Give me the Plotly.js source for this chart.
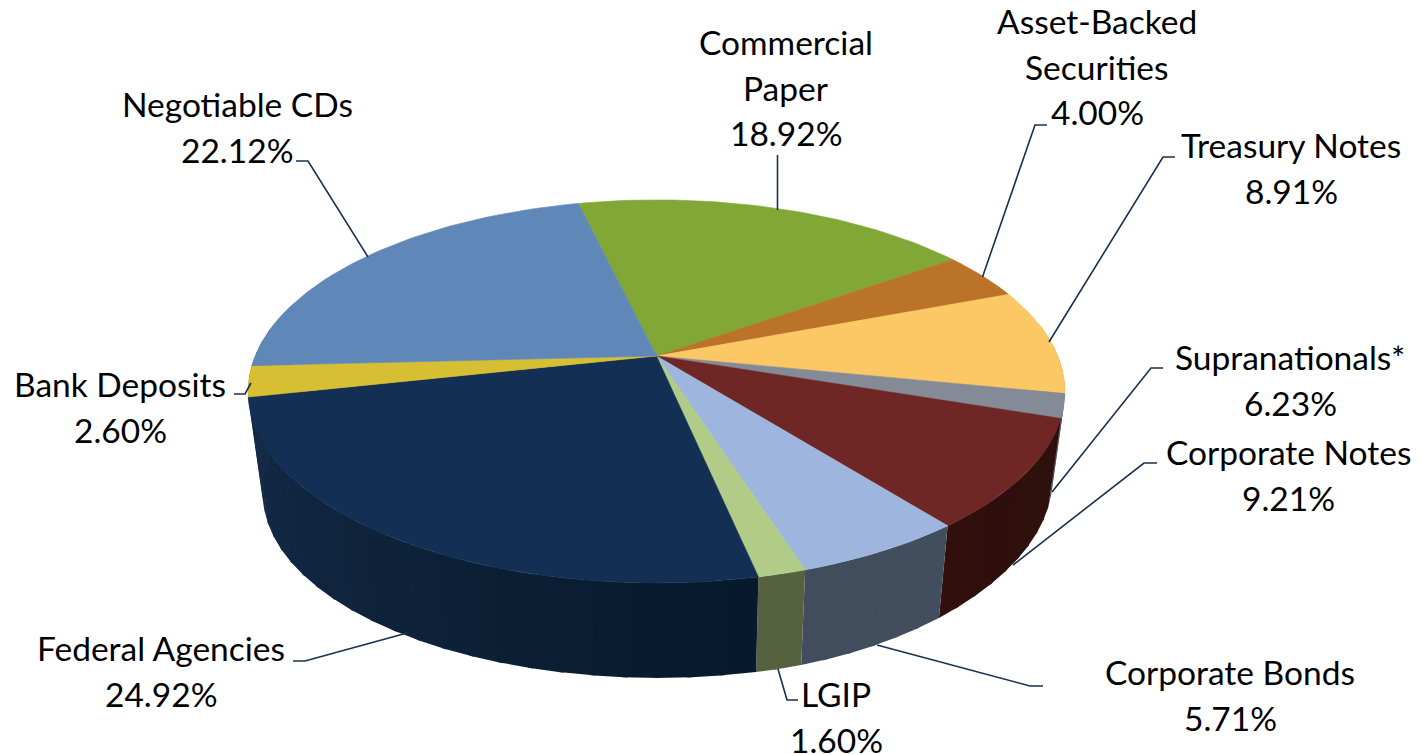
<!DOCTYPE html>
<html>
<head>
<meta charset="utf-8">
<script src="https://cdn.plot.ly/plotly-3.0.1.min.js"></script>
<style>html,body{margin:0;padding:0;background:#fff}#chart{width:1421px;height:754px}</style>
</head>
<body>
<div id="chart"></div>
<script>
// ---- chart data, clockwise from the Commercial Paper slice ----
const categories = ["Commercial Paper","Asset-Backed Securities","Treasury Notes","Supranationals*","Corporate Notes","Corporate Bonds","LGIP","Federal Agencies","Bank Deposits","Negotiable CDs"];
// percentages printed on the labels
const printedPercents = [18.92,4.00,8.91,6.23,9.21,5.71,1.60,24.92,2.60,22.12];
// share of the circle each slice occupies in the picture (Supranationals is drawn far smaller than its label)
const drawnShares = [18.92,4.00,8.91,2.01,9.21,5.71,1.60,24.92,2.60,22.12];

// ---- styling ----
const topColors = ["#81a736","#ba7329","#fcc865","#848b96","#6f2726","#9eb6de","#b0cc87","#132f54","#d6bf33","#5f88b9"];
const wallFrom  = ["#4d6420","#6f4518","#97783c","#4f535a","#300f0d","#414d5c","#56623f","#142a47","#142a47","#142a47"];
const wallTo    = ["#4d6420","#6f4518","#97783c","#4f535a","#2d100d","#424e5d","#56623f","#07192b","#142a47","#142a47"];
const startAngle = -13.3;
const labelLines = [["Commercial","Paper"],["Asset-Backed","Securities"],["Treasury Notes"],["Supranationals*"],["Corporate Notes"],["Corporate Bonds"],["LGIP"],["Federal Agencies"],["Bank Deposits"],["Negotiable CDs"]];
// label anchors: centre x, first-line y (page pixels)
const labelX = [785.5,1097,1291,1290,1288,1230,836,161,120,237];
const labelY = [42,21,145,357,452,672,694,648,384,104];
const linePitch = 45.6;
const leaderX = [[777.5,777.5],[1047,1035,982.5],[1175,1163,1049],[1163,1151,1052],[1157,1144,1013],[1043,1030,877],[798,787,778],[293,305,407],[234,245,251],[296,308,368]];
const leaderY = [[155,210],[125,125,277],[157,157,342],[368,368,492],[463,463,565],[686,686,645],[700,700,669],[661,661,633],[394,394,383],[161,161,257]];
const fontFamily = "Lato, 'Open Sans', sans-serif";
const fontSize = 33.5;

// ---- projection of the pie disc ----
const k = 0.185;
const topDisc = {cx:656.5, cy:356, rx:401.4, ry:185, turn:0, lift:0};
const baseDisc = {cx:657.5, cy:459.5, rx:388, ry:178, turn:0, lift:1.5e-4};
function project(d, deg){
  const a = (deg+d.turn)*Math.PI/180, u = Math.sin(a), v = -Math.cos(a), w = 1-k*v;
  const x = d.cx + d.rx*u/w, y = d.cy + d.ry*v/w;
  const off = Math.max(0, x-d.cx-100);
  return [x, y - d.lift*off*off];
}
function hex(c){return [1,3,5].map(i=>parseInt(c.substr(i,2),16));}
function mix(a,b,t){const A=hex(a),B=hex(b);return "rgb("+A.map((x,i)=>Math.round(x+(B[i]-x)*t)).join(",")+")";}

const total = drawnShares.reduce((s,x)=>s+x,0);
let ang = startAngle;
const spans = drawnShares.map(s=>{const a0=ang; ang+=s/total*360; return [a0,ang];});

const traces = [];
function poly(pts,color,lineW){
  traces.push({type:"scatter",mode:"lines",x:pts.map(p=>p[0]).concat(pts[0][0]),y:pts.map(p=>p[1]).concat(pts[0][1]),
    fill:"toself",fillcolor:color,line:{color:color,width:lineW},hoverinfo:"skip",showlegend:false});
}
// side wall strips, each overlapping the previous seam
spans.forEach((sp,i)=>{
  const a0=Math.max(sp[0],80), a1=Math.min(sp[1],285);
  if(a1<=a0) return;
  const n=Math.max(1,Math.ceil((a1-a0)/4));
  for(let j=0;j<n;j++){
    const p=a0+(a1-a0)*j/n, q=a0+(a1-a0)*(j+1)/n;
    const end = (j===n-1) ? q : q+0.6;
    poly([project(topDisc,p),project(topDisc,end),project(baseDisc,end),project(baseDisc,p)], mix(wallFrom[i],wallTo[i],1-(j+0.5)/n),0);
  }
});
// top wedges
spans.forEach((sp,i)=>{
  const pts=[[topDisc.cx,topDisc.cy]];
  const n=Math.ceil((sp[1]-sp[0])/1.5);
  for(let j=0;j<=n;j++) pts.push(project(topDisc,sp[0]+(sp[1]-sp[0])*j/n));
  poly(pts,topColors[i],0.6);
});
// leader lines
leaderX.forEach((xs,i)=>traces.push({type:"scatter",mode:"lines",x:xs,y:leaderY[i],line:{color:"#17304f",width:1.6},hoverinfo:"skip",showlegend:false}));

// labels
const annotations=[];
categories.forEach((c,i)=>{
  labelLines[i].concat(printedPercents[i].toFixed(2)+"%").forEach((t,j)=>{
    annotations.push({x:labelX[i],y:labelY[i]+j*linePitch,xref:"x",yref:"y",text:t,showarrow:false,xanchor:"center",yanchor:"middle",
      font:{family:fontFamily,size:fontSize,color:"#000"}});
  });
});

Plotly.newPlot("chart",traces,{
  width:1421,height:754,margin:{l:0,r:0,t:0,b:0},paper_bgcolor:"#fff",plot_bgcolor:"#fff",showlegend:false,
  xaxis:{range:[0,1421],visible:false,fixedrange:true},
  yaxis:{range:[754,0],visible:false,fixedrange:true},
  annotations:annotations
},{displayModeBar:false,staticPlot:true});
</script>
</body>
</html>
